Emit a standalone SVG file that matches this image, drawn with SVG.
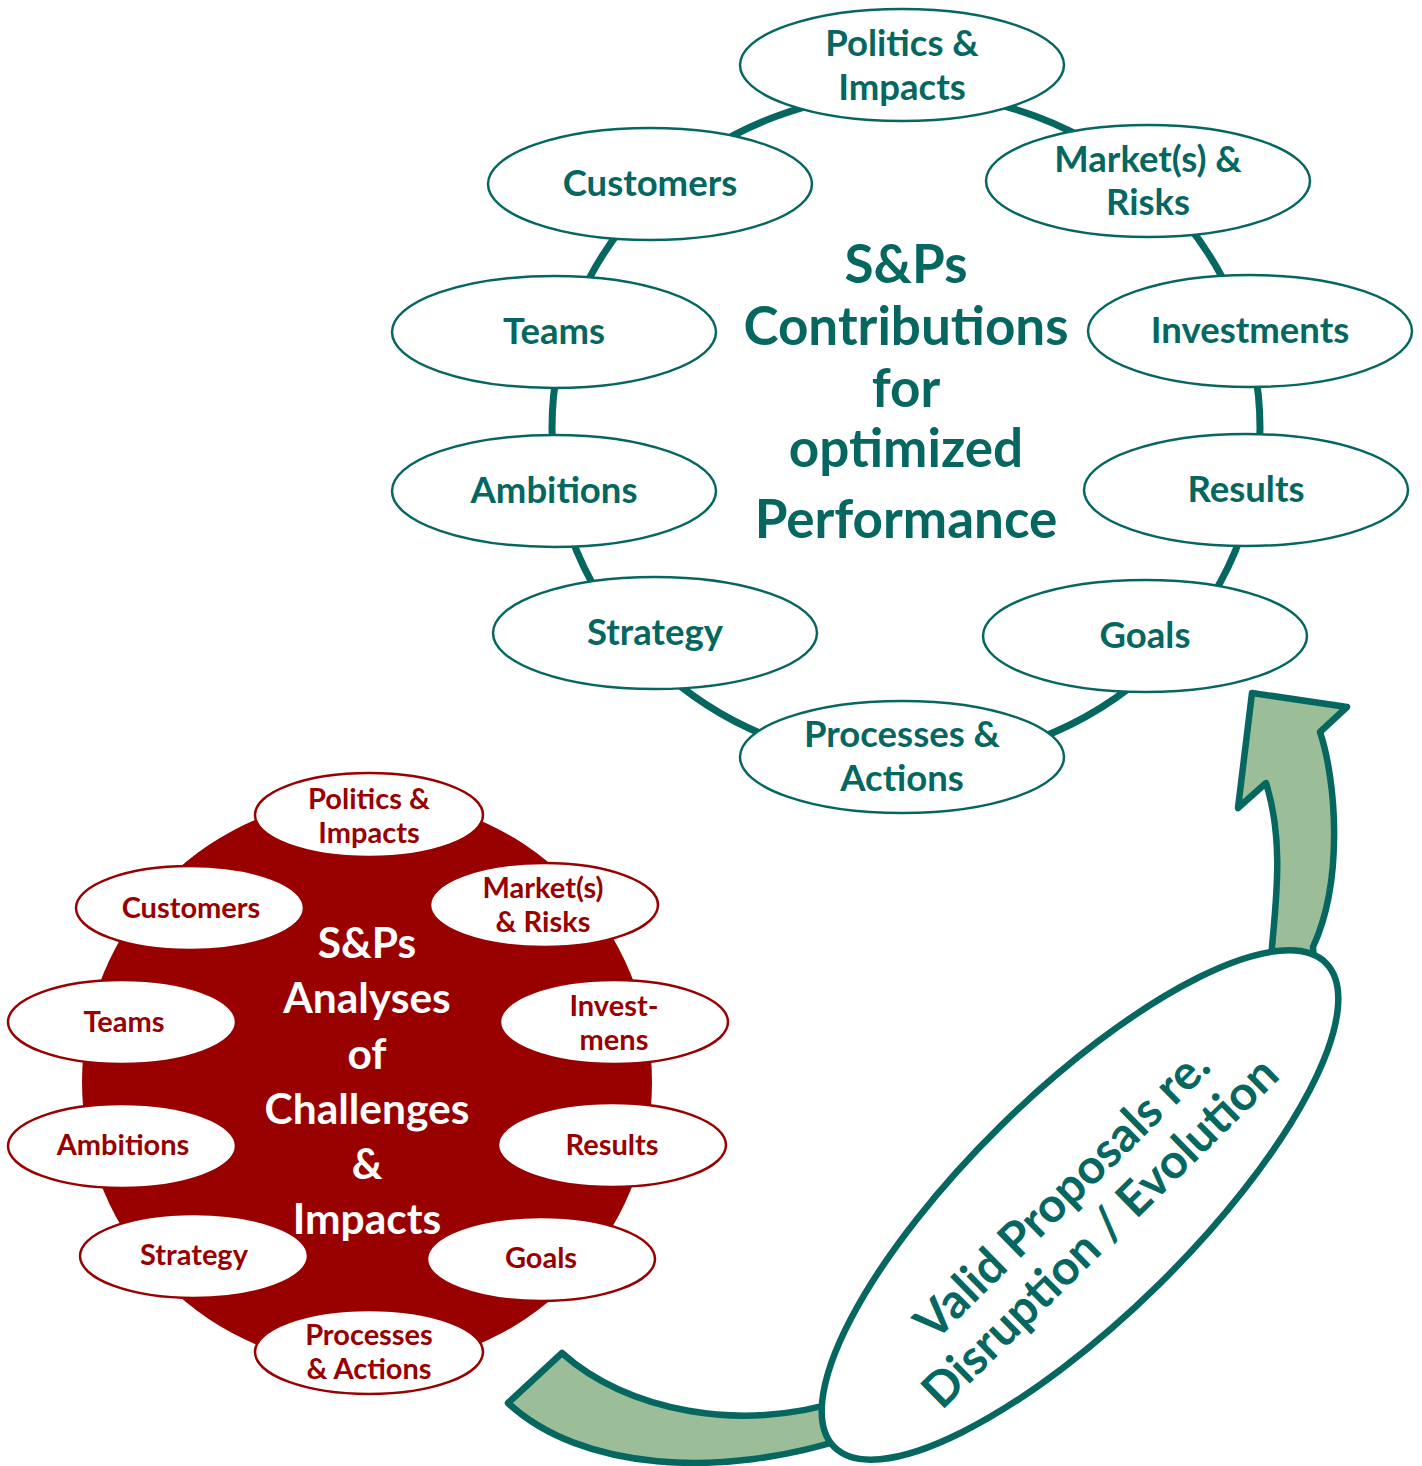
<svg xmlns="http://www.w3.org/2000/svg" width="1422" height="1466" viewBox="0 0 1422 1466">
<style>
text{font-family:Lato,"Open Sans","Liberation Sans",sans-serif;font-weight:bold;text-anchor:middle}
.tn{fill:#fff;stroke:#05675F;stroke-width:2.5}
.tt{fill:#05675F;font-size:36.5px}
.tc{fill:#05675F;font-size:53px}
.rn{fill:#fff;stroke:#990000;stroke-width:2.5}
.rt{fill:#990000;font-size:29px}
.rc{fill:#fff;font-size:42.5px}
.arrow{fill:#9BBD97;stroke:#05675F;stroke-width:6.5;stroke-linejoin:round}
</style>
<rect width="1422" height="1466" fill="#fff"/>

<!-- Bottom-left: analyses -->
<g id="analyses">
<circle cx="367" cy="1082" r="285" fill="#990000"/>
<text class="rc" x="367" y="958">S&amp;Ps</text>
<text class="rc" x="367" y="1013">Analyses</text>
<text class="rc" x="367" y="1069">of</text>
<text class="rc" x="367" y="1124">Challenges</text>
<text class="rc" x="367" y="1179">&amp;</text>
<text class="rc" x="367" y="1234">Impacts</text>
</g>
<g id="a-politics"><ellipse class="rn" cx="369" cy="815" rx="114" ry="42"/><text class="rt" x="369" y="809">Politics &amp;</text><text class="rt" x="369" y="843">Impacts</text></g>
<g id="a-customers"><ellipse class="rn" cx="190" cy="908" rx="114" ry="42"/><text class="rt" x="191" y="918">Customers</text></g>
<g id="a-markets"><ellipse class="rn" cx="544" cy="905" rx="114" ry="42"/><text class="rt" x="543" y="898">Market(s)</text><text class="rt" x="543" y="932">&amp; Risks</text></g>
<g id="a-teams"><ellipse class="rn" cx="122" cy="1022" rx="114" ry="42"/><text class="rt" x="124" y="1032">Teams</text></g>
<g id="a-investments"><ellipse class="rn" cx="614" cy="1022" rx="114" ry="42"/><text class="rt" x="614" y="1016">Invest-</text><text class="rt" x="614" y="1050">mens</text></g>
<g id="a-ambitions"><ellipse class="rn" cx="122" cy="1146" rx="114" ry="42"/><text class="rt" x="123" y="1155">Ambitions</text></g>
<g id="a-results"><ellipse class="rn" cx="612" cy="1145" rx="114" ry="42"/><text class="rt" x="612" y="1155">Results</text></g>
<g id="a-strategy"><ellipse class="rn" cx="194" cy="1256" rx="114" ry="42"/><text class="rt" x="194" y="1265">Strategy</text></g>
<g id="a-goals"><ellipse class="rn" cx="541" cy="1259" rx="114" ry="42"/><text class="rt" x="541" y="1268">Goals</text></g>
<g id="a-processes"><ellipse class="rn" cx="369" cy="1352" rx="114" ry="42"/><text class="rt" x="369" y="1345">Processes</text><text class="rt" x="369" y="1379">&amp; Actions</text></g>

<!-- Top: contributions -->
<g id="connectors">
<ellipse cx="906" cy="428" rx="354" ry="335" fill="none" stroke="#05675F" stroke-width="7"/>
</g>
<g id="contributions">
<text class="tc" x="906" y="283">S&amp;Ps</text>
<text class="tc" x="906" y="345">Contributions</text>
<text class="tc" x="906" y="407">for</text>
<text class="tc" x="906" y="467">optimized</text>
<text class="tc" x="906" y="538">Performance</text>
</g>
<g id="c-politics"><ellipse class="tn" cx="902" cy="65" rx="162" ry="56"/><text class="tt" x="902" y="56">Politics &amp;</text><text class="tt" x="902" y="100">Impacts</text></g>
<g id="c-customers"><ellipse class="tn" cx="650" cy="184" rx="162" ry="56"/><text class="tt" x="650" y="196">Customers</text></g>
<g id="c-markets"><ellipse class="tn" cx="1148" cy="181" rx="162" ry="56"/><text class="tt" x="1148" y="172">Market(s) &amp;</text><text class="tt" x="1148" y="215">Risks</text></g>
<g id="c-teams"><ellipse class="tn" cx="554" cy="332" rx="162" ry="56"/><text class="tt" x="554" y="344">Teams</text></g>
<g id="c-investments"><ellipse class="tn" cx="1250" cy="331" rx="162" ry="56"/><text class="tt" x="1250" y="343">Investments</text></g>
<g id="c-ambitions"><ellipse class="tn" cx="554" cy="491" rx="162" ry="56"/><text class="tt" x="554" y="503">Ambitions</text></g>
<g id="c-results"><ellipse class="tn" cx="1246" cy="490" rx="162" ry="56"/><text class="tt" x="1246" y="502">Results</text></g>
<g id="c-strategy"><ellipse class="tn" cx="655" cy="633" rx="162" ry="56"/><text class="tt" x="655" y="645">Strategy</text></g>
<g id="c-goals"><ellipse class="tn" cx="1145" cy="636" rx="162" ry="56"/><text class="tt" x="1145" y="648">Goals</text></g>
<g id="c-processes"><ellipse class="tn" cx="902" cy="757" rx="162" ry="56"/><text class="tt" x="902" y="747">Processes &amp;</text><text class="tt" x="902" y="791">Actions</text></g>

<!-- Curved arrow -->
<g id="arrow">
<path class="arrow" d="M562,1353 L508,1403 C580,1470 720,1480 850,1437 L850,1398 C740,1435 625,1410 562,1353 Z"/>
<path class="arrow" d="M1270,985 L1272,947 C1276,900 1284,840 1266,783 L1238,808 L1252,693 L1347,707 L1320,732 C1336,780 1344,880 1313,947 L1316,985 Z"/>
</g>
<g id="proposals">
<ellipse cx="1080" cy="1205" rx="345" ry="112" transform="rotate(-44.5 1080 1205)" fill="#fff" stroke="#05675F" stroke-width="6.5"/>
<g transform="translate(1080 1205) rotate(-44.5)">
<text x="-5" y="-4" style="fill:#05675F;font-size:48px">Valid Proposals re.</text>
<text x="-5" y="50" style="fill:#05675F;font-size:48px">Disruption / Evolution</text>
</g>
</g>
</svg>
